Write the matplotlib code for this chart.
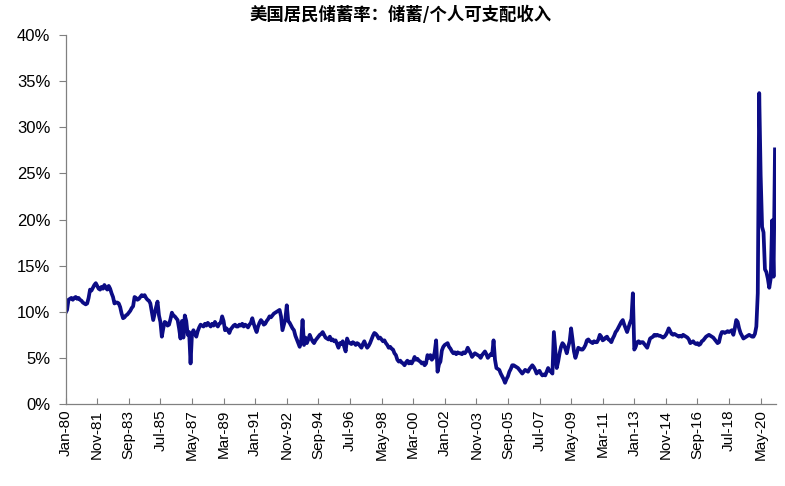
import matplotlib
matplotlib.use('agg')

import matplotlib.pyplot as plt
import numpy as np
import pandas as pd

plt.rcParams['font.family'] = ['Liberation Sans', 'DejaVu Sans']

title = "美国居民储蓄率：储蓄/个人可支配收入"

# personal saving rate (%), monthly, one row per year, Jan-80 .. Mar-21
rate_1980s = [
    [9.9, 10.2, 11.3, 11.4, 11.5, 11.3, 11.5, 11.6, 11.4, 11.5, 11.3, 11.2],
    [11.0, 10.9, 10.8, 10.9, 11.5, 12.4, 12.3, 12.6, 12.9, 13.1, 12.8, 12.5],
    [12.4, 12.7, 12.5, 12.9, 12.6, 12.4, 12.8, 12.5, 12.0, 11.6, 10.9, 11.0],
    [11.0, 10.9, 10.5, 9.8, 9.3, 9.4, 9.6, 9.7, 9.9, 10.1, 10.4, 10.6],
    [11.6, 11.5, 11.3, 11.4, 11.6, 11.8, 11.7, 11.8, 11.5, 11.3, 11.2, 10.9],
    [10.0, 9.1, 9.8, 10.5, 11.1, 9.6, 8.9, 7.3, 8.2, 8.9, 8.8, 8.5],
    [8.6, 9.2, 9.9, 9.6, 9.5, 9.3, 9.1, 8.2, 7.1, 9.0, 7.2, 9.6],
    [9.0, 7.5, 7.8, 4.4, 7.6, 8.0, 7.6, 7.3, 7.9, 8.3, 8.6, 8.5],
    [8.4, 8.7, 8.5, 8.8, 8.6, 8.4, 8.7, 8.5, 8.9, 8.6, 8.4, 8.7],
    [8.8, 9.5, 9.0, 8.0, 8.2, 8.0, 7.7, 8.1, 8.3, 8.5, 8.6, 8.4],
]
rate_1990s = [
    [8.4, 8.6, 8.5, 8.7, 8.4, 8.6, 8.5, 8.3, 8.6, 8.8, 9.3, 8.7],
    [8.2, 7.8, 8.4, 8.8, 9.1, 8.9, 8.6, 8.7, 9.0, 9.2, 9.5, 9.4],
    [9.6, 9.8, 9.9, 10.0, 10.1, 10.2, 9.5, 8.0, 8.6, 9.2, 10.7, 9.0],
    [8.8, 8.5, 8.2, 8.0, 7.4, 7.0, 6.6, 6.2, 6.8, 9.1, 6.4, 7.2],
    [6.6, 7.0, 7.5, 7.1, 6.8, 6.6, 6.9, 7.1, 7.3, 7.5, 7.6, 7.8],
    [7.5, 7.2, 7.1, 7.0, 7.3, 6.9, 7.0, 6.8, 6.9, 6.5, 6.1, 6.6],
    [6.5, 6.8, 6.2, 5.7, 7.1, 6.7, 6.6, 6.5, 6.7, 6.6, 6.4, 6.6],
    [6.5, 6.3, 6.1, 6.5, 6.8, 6.4, 6.1, 6.3, 6.6, 7.0, 7.4, 7.7],
    [7.6, 7.4, 7.1, 7.2, 7.0, 6.8, 6.9, 6.6, 6.4, 6.1, 6.2, 6.0],
    [5.9, 5.5, 5.3, 4.8, 4.6, 4.7, 4.5, 4.4, 4.2, 4.5, 4.7, 4.4],
]
rate_2000s = [
    [4.6, 4.4, 4.7, 5.1, 4.8, 4.9, 4.7, 4.6, 4.4, 4.5, 4.2, 4.4],
    [5.3, 5.0, 5.3, 4.8, 5.0, 5.6, 6.9, 3.5, 4.3, 4.6, 5.8, 6.2],
    [6.4, 6.5, 6.6, 6.2, 6.0, 5.7, 5.5, 5.6, 5.4, 5.6, 5.5, 5.5],
    [5.4, 5.6, 5.5, 5.7, 6.1, 5.8, 5.5, 5.1, 5.3, 5.5, 5.4, 5.3],
    [5.2, 5.0, 5.3, 5.5, 5.7, 5.4, 5.0, 5.2, 5.4, 5.3, 6.9, 4.8],
    [3.9, 3.8, 3.7, 3.3, 3.0, 2.7, 2.3, 2.7, 3.0, 3.5, 3.8, 4.2],
    [4.2, 4.1, 4.0, 3.9, 3.7, 3.5, 3.3, 3.5, 3.7, 3.6, 3.5, 3.8],
    [4.0, 4.2, 4.0, 3.7, 3.3, 3.5, 3.6, 3.3, 3.1, 3.2, 3.1, 3.5],
    [3.9, 3.6, 3.5, 3.3, 7.8, 5.8, 3.9, 4.6, 5.5, 6.2, 6.6, 6.4],
    [6.0, 5.5, 6.2, 6.8, 8.2, 7.0, 5.7, 5.0, 5.5, 6.1, 6.0, 5.9],
]
rate_2010s = [
    [5.9, 6.1, 6.4, 6.9, 7.0, 6.8, 6.7, 6.6, 6.8, 6.7, 6.7, 7.0],
    [7.5, 7.3, 6.9, 7.0, 7.2, 7.3, 7.0, 6.9, 6.7, 7.1, 7.4, 7.8],
    [8.0, 8.3, 8.6, 8.9, 9.1, 8.6, 8.2, 7.8, 8.3, 8.8, 9.2, 12.0],
    [5.9, 6.2, 6.7, 6.8, 6.6, 6.7, 6.7, 6.5, 6.3, 6.1, 6.6, 7.1],
    [7.2, 7.3, 7.5, 7.4, 7.5, 7.4, 7.4, 7.3, 7.2, 7.3, 7.5, 7.8],
    [8.2, 7.9, 7.6, 7.5, 7.6, 7.5, 7.4, 7.3, 7.4, 7.3, 7.5, 7.4],
    [7.3, 7.2, 7.0, 6.6, 6.7, 6.8, 6.6, 6.5, 6.6, 6.4, 6.5, 6.8],
    [6.9, 7.1, 7.3, 7.4, 7.5, 7.4, 7.3, 7.2, 7.0, 6.8, 6.6, 6.7],
    [7.4, 7.8, 7.8, 7.7, 7.8, 7.9, 7.8, 7.9, 8.0, 7.5, 8.2, 9.1],
    [8.9, 8.2, 7.7, 7.4, 7.1, 7.2, 7.3, 7.4, 7.5, 7.4, 7.3, 7.3],
]
rate_2020s = [
    [7.6, 8.4, 12.0, 33.7, 24.8, 19.2, 18.6, 14.6, 14.3, 13.6, 12.6, 13.6],
    [19.9, 13.8, 27.6],
]

yticks = [0, 5, 10, 15, 20, 25, 30, 35, 40]

values = [v for block in (rate_1980s, rate_1990s, rate_2000s, rate_2010s, rate_2020s)
          for year in block for v in year]
dates = pd.date_range('1980-01-01', periods=len(values), freq='MS')
m = np.arange(len(values))

fig = plt.figure(figsize=(7.85, 4.86), dpi=100)
ax = fig.add_axes([0.0836, 0.1687, 0.9055, 0.7593])

ax.plot(m, values, color='#0c0c85', linewidth=2.7, solid_joinstyle='round')

ax.set_xlim(0, 495)
ax.set_ylim(0, 40)

tick_pos = np.arange(0, len(values), 22)
ax.set_xticks(tick_pos)
ax.set_xticklabels([dates[i].strftime('%b-%y') for i in tick_pos], rotation=90, fontsize=11)
ax.set_yticks(yticks)
ax.set_yticklabels([f"{t}%" for t in yticks], fontsize=12)

ax.tick_params(axis='x', direction='in', length=4, color='#808080', pad=4)
ax.tick_params(axis='y', direction='out', length=5, color='#808080', pad=6)

for side in ['top', 'right']:
    ax.spines[side].set_visible(False)
for side in ['left', 'bottom']:
    ax.spines[side].set_color('#808080')
    ax.spines[side].set_linewidth(0.9)

fig.text(0.51, 0.969, title, ha='center', va='center', fontsize=12.5, fontweight='bold',
         family=['Noto Sans CJK SC', 'DejaVu Sans'])

plt.savefig('out.png', dpi=100)
plt.close()
